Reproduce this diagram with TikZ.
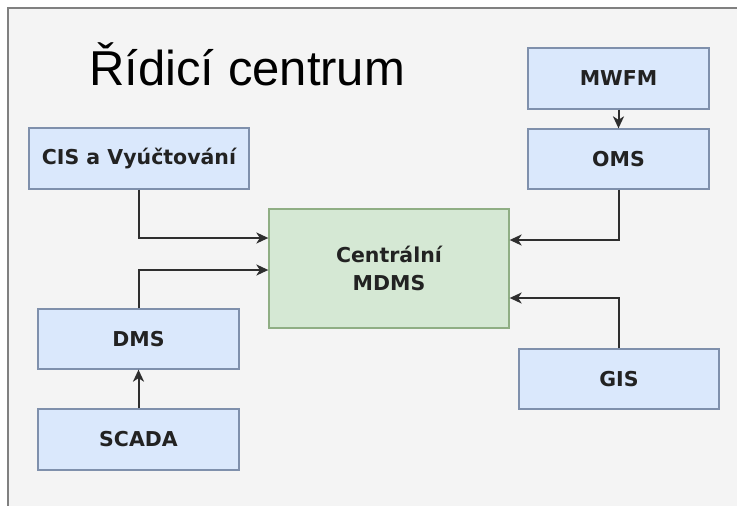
\documentclass[tikz,border=0pt]{standalone}
\usepackage{fontspec}
\setmainfont{Liberation Sans}
\newfontfamily\boxfont{DejaVu Sans}
\usetikzlibrary{arrows.meta}
\definecolor{bgc}{HTML}{F4F4F4}
\definecolor{framec}{HTML}{808080}
\definecolor{bluefill}{HTML}{DAE8FC}
\definecolor{blueline}{HTML}{7F90AC}
\definecolor{greenfill}{HTML}{D5E8D4}
\definecolor{greenline}{HTML}{8FAE84}
\definecolor{linec}{HTML}{2E2E2E}
\definecolor{textc}{HTML}{222222}
\tikzset{
  sysbox/.style={draw=blueline, fill=bluefill, line width=1.3pt, inner sep=0pt,
    text=textc, font=\boxfont\bfseries\fontsize{20.5}{28}\selectfont, align=center},
  corebox/.style={sysbox, draw=greenline, fill=greenfill},
  arr/.style={draw=linec, line width=2pt,
    -{Stealth[length=12pt,width=11pt,inset=3.5pt]}},
}
\begin{document}
\begin{tikzpicture}[x=1pt,y=-1pt]
  \useasboundingbox (0,0) rectangle (737,506);
  % page and panel background
  \fill[white] (0,0) rectangle (737,506);
  \fill[bgc] (8,8) rectangle (737,506);
  \draw[framec, line width=2pt] (8,506) -- (8,8) -- (737,8);

  % title
  \node[anchor=base west, inner sep=0pt, font=\fontsize{49}{58}\selectfont, text=black]
    (title) at (89,85) {Řídicí centrum};

  % systems
  \node[sysbox, minimum width=220pt, minimum height=61pt] (cis) at (139,158.5) {CIS a Vyúčtování};
  \node[sysbox, minimum width=201pt, minimum height=60pt] (dms) at (138.5,339) {DMS};
  \node[sysbox, minimum width=201pt, minimum height=61pt] (scada) at (138.5,439.5) {SCADA};
  \node[corebox, minimum width=240pt, minimum height=119pt] (mdms) at (389,268.5) {Centrální\\MDMS};
  \node[sysbox, minimum width=181pt, minimum height=61pt] (mwfm) at (618.5,78.5) {MWFM};
  \node[sysbox, minimum width=181pt, minimum height=60pt] (oms) at (618.5,159) {OMS};
  \node[sysbox, minimum width=200pt, minimum height=60pt] (gis) at (619,379) {GIS};

  % data flows
  \draw[arr] (scada) -- (dms);
  \draw[arr] (mwfm) -- (oms);
  \draw[arr] (cis.south) |- ([yshift=30.5pt]mdms.west);
  \draw[arr] (dms.north) |- ([yshift=-1.5pt]mdms.west);
  \draw[arr] (oms.south) |- ([yshift=28.5pt]mdms.east);
  \draw[arr] (gis.north) |- ([yshift=-29.5pt]mdms.east);
\end{tikzpicture}
\end{document}
